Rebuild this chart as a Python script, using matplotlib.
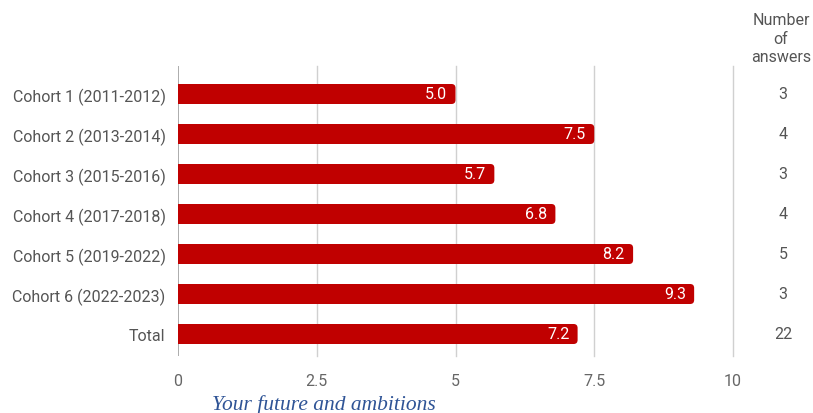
import matplotlib
matplotlib.use("Agg")
import matplotlib.pyplot as plt
from matplotlib.patches import FancyBboxPatch
from matplotlib.transforms import blended_transform_factory

# Average score per cohort, with the number of answers behind each average.
cohorts = [
    "Cohort 1 (2011-2012)",
    "Cohort 2 (2013-2014)",
    "Cohort 3 (2015-2016)",
    "Cohort 4 (2017-2018)",
    "Cohort 5 (2019-2022)",
    "Cohort 6 (2022-2023)",
    "Total",
]
scores = [5.0, 7.5, 5.7, 6.8, 8.2, 9.3, 7.2]
answers = [3, 4, 3, 4, 5, 3, 22]
x_ticks = [0, 2.5, 5, 7.5, 10]
x_tick_labels = ["0", "2.5", "5", "7.5", "10"]

plt.rcParams["font.family"] = ["Roboto", "DejaVu Sans"]

BAR_RED = "#c00000"
TEXT_GREY = "#555555"
TICK_GREY = "#666666"
FS = 11.5

W, H = 813, 414
fig = plt.figure(figsize=(W / 100, H / 100), dpi=100)
ax = fig.add_axes([178 / W, 1 - 357 / H, (733 - 178) / W, 290 / H])

ax.set_xlim(0, 10)
ax.set_ylim(len(cohorts) - 0.45, -0.7)

# bars with rounded right end, square left end
bar_h = 0.5
px_x = (733 - 178) / 10  # pixels per x unit
px_y = 40.0              # pixels per category
r = 4 / px_x
for i, v in enumerate(scores):
    box = FancyBboxPatch(
        (0, i - bar_h / 2), v, bar_h,
        boxstyle=f"round,pad=0,rounding_size={r}",
        mutation_aspect=px_x / px_y,
        facecolor=BAR_RED, edgecolor="none", zorder=3,
    )
    ax.add_patch(box)
    ax.add_patch(plt.Rectangle((0, i - bar_h / 2), min(v, 2 * r), bar_h,
                               facecolor=BAR_RED, edgecolor="none", zorder=3))
    ax.annotate(f"{v:.1f}", xy=(v, i), xytext=(-6, 0), textcoords="offset points",
                ha="right", va="center", color="white", fontsize=FS, zorder=4)

# vertical gridlines and the zero axis
for t in x_ticks[1:]:
    ax.axvline(t, color="#d0d0d0", linewidth=1, zorder=1, clip_on=False)
ax.axvline(0, color="#9e9e9e", linewidth=1.2, zorder=2)

ax.set_yticks(range(len(cohorts)))
ax.set_yticklabels(cohorts, fontsize=FS, color=TEXT_GREY)
ax.set_xticks(x_ticks)
ax.set_xticklabels(x_tick_labels, fontsize=FS, color=TICK_GREY)
ax.tick_params(axis="both", length=0)
ax.tick_params(axis="y", pad=9)
ax.tick_params(axis="x", pad=12)
for s in ax.spines.values():
    s.set_visible(False)

# column with the number of answers
col = blended_transform_factory(fig.transFigure, ax.transData)
for i, n in enumerate(answers):
    ax.text(783 / W, i, str(n), transform=col,
            ha="center", va="center", fontsize=FS, color=TEXT_GREY)
fig.text(781 / W, 1 - 39 / H, "Number\nof\nanswers", ha="center", va="center",
         fontsize=FS, color=TEXT_GREY, linespacing=1.3)

fig.text(212 / W, 1 - 410 / H, "Your future and ambitions", ha="left", va="baseline",
         fontsize=15.5, style="italic", color="#2f5496",
         family=["Liberation Serif", "DejaVu Serif"])

fig.savefig("out.png", dpi=100)
